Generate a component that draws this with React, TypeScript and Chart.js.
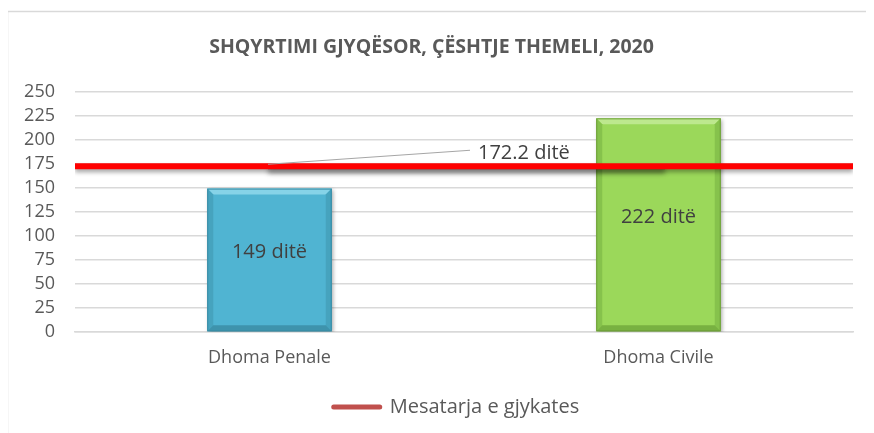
import React, { useEffect, useRef } from "react";
import { Chart, registerables } from "chart.js";

Chart.register(...registerables);

const titleText = "SHQYRTIMI GJYQËSOR, ÇËSHTJE THEMELI, 2020";
const categories = ["Dhoma Penale", "Dhoma Civile"];
const barValues = [149, 222];
const barLabels = ["149 ditë", "222 ditë"];
const averageValue = 172.2;
const averageLabel = "172.2 ditë";
const legendText = "Mesatarja e gjykates";
const yTicks = [0, 25, 50, 75, 100, 125, 150, 175, 200, 225, 250];

const barFill = ["#50B4D2", "#9BD85A"];
const barBorder = ["#3A8CA4", "#6E9E3A"];
const bevelTop = ["#86D3E8", "#BDE88E"];
const bevelSide = ["#46A3BE", "#86C24C"];
const bevelBottom = ["#3E93AC", "#78B141"];

const FONT = "'Open Sans', 'Noto Sans', sans-serif";

const framePlugin = {
  id: "frame",
  beforeDraw(chart: any) {
    const { ctx, width, height } = chart;
    ctx.save();
    ctx.fillStyle = "#ffffff";
    ctx.fillRect(0, 0, width, height);
    ctx.strokeStyle = "#D9D9D9";
    ctx.lineWidth = 1.5;
    ctx.beginPath();
    ctx.moveTo(6, 11.5);
    ctx.lineTo(width, 11.5);
    ctx.moveTo(7.5, 11);
    ctx.lineTo(7.5, height);
    ctx.stroke();
    ctx.restore();
  },
  afterLayout(chart: any) {
    if (chart.legend) chart.legend.left += 50;
  },
};

const barDecor = {
  id: "barDecor",
  beforeDatasetDraw(chart: any, args: any) {
    const ctx = chart.ctx;
    if (args.index === 0) {
      ctx.save();
      ctx.shadowColor = "rgba(0,0,0,0.35)";
      ctx.shadowBlur = 4;
      ctx.shadowOffsetX = 1.5;
      ctx.shadowOffsetY = 1.5;
    }
    if (args.index === 1) {
      // shadow of the callout under the average line
      const y = chart.scales.y.getPixelForValue(averageValue);
      ctx.save();
      ctx.shadowColor = "rgba(0,0,0,0.6)";
      ctx.shadowBlur = 5;
      ctx.shadowOffsetY = 4;
      ctx.fillStyle = "rgba(70,70,70,0.7)";
      ctx.fillRect(268, y - 2, 397, 5);
      ctx.restore();
      ctx.save();
      ctx.shadowColor = "rgba(0,0,0,0.35)";
      ctx.shadowBlur = 4;
      ctx.shadowOffsetY = 3;
    }
  },
  afterDatasetDraw(chart: any, args: any) {
    const ctx = chart.ctx;
    if (args.index === 1) {
      ctx.restore();
      return;
    }
    if (args.index !== 0) return;
    ctx.restore();
    const meta = chart.getDatasetMeta(0);
    meta.data.forEach((bar: any, i: number) => {
      const x0 = bar.x - bar.width / 2;
      const x1 = bar.x + bar.width / 2;
      const y0 = bar.y;
      const yb = bar.base;
      const b = 6;
      ctx.save();
      ctx.fillStyle = bevelTop[i];
      ctx.beginPath();
      ctx.moveTo(x0, y0);
      ctx.lineTo(x1, y0);
      ctx.lineTo(x1 - b, y0 + b);
      ctx.lineTo(x0 + b, y0 + b);
      ctx.closePath();
      ctx.fill();
      ctx.fillStyle = bevelSide[i];
      ctx.beginPath();
      ctx.moveTo(x0, y0);
      ctx.lineTo(x0 + b, y0 + b);
      ctx.lineTo(x0 + b, yb - b);
      ctx.lineTo(x0, yb);
      ctx.closePath();
      ctx.fill();
      ctx.beginPath();
      ctx.moveTo(x1, y0);
      ctx.lineTo(x1 - b, y0 + b);
      ctx.lineTo(x1 - b, yb - b);
      ctx.lineTo(x1, yb);
      ctx.closePath();
      ctx.fill();
      ctx.fillStyle = bevelBottom[i];
      ctx.beginPath();
      ctx.moveTo(x0, yb);
      ctx.lineTo(x1, yb);
      ctx.lineTo(x1 - b, yb - b);
      ctx.lineTo(x0 + b, yb - b);
      ctx.closePath();
      ctx.fill();
      ctx.strokeStyle = barBorder[i];
      ctx.lineWidth = 1;
      ctx.strokeRect(x0 + 0.5, y0 + 0.5, bar.width - 1, yb - y0 - 1);
      ctx.fillStyle = "#404040";
      ctx.font = `20px ${FONT}`;
      ctx.textAlign = "center";
      ctx.textBaseline = "middle";
      ctx.fillText(barLabels[i], bar.x, (y0 + yb) / 2 - 8);
      ctx.restore();
    });
  },
  afterDatasetsDraw(chart: any) {
    const ctx = chart.ctx;
    const y = chart.scales.y.getPixelForValue(averageValue);
    ctx.save();
    ctx.strokeStyle = "#A6A6A6";
    ctx.lineWidth = 1;
    ctx.beginPath();
    ctx.moveTo(268, y - 2);
    ctx.lineTo(470, y - 16);
    ctx.stroke();
    ctx.fillStyle = "#404040";
    ctx.font = `20px ${FONT}`;
    ctx.textAlign = "left";
    ctx.textBaseline = "middle";
    ctx.fillText(averageLabel, 478, y - 13);
    ctx.restore();
  },
};

export default function App() {
  const ref = useRef<HTMLCanvasElement | null>(null);
  useEffect(() => {
    if (!ref.current) return;
    const chart = new Chart(ref.current, {
      type: "bar",
      data: {
        labels: categories,
        datasets: [
          {
            type: "bar",
            label: "Dhoma",
            data: barValues,
            backgroundColor: barFill,
            borderWidth: 0,
            barPercentage: 0.32,
            categoryPercentage: 1,
            grouped: false,
            order: 2,
          } as any,
          {
            type: "line",
            label: legendText,
            data: [
              { x: 0, y: averageValue },
              { x: 1, y: averageValue },
            ],
            xAxisID: "x2",
            borderColor: "#FF0000",
            borderWidth: 6,
            pointRadius: 0,
            fill: false,
            order: 1,
          } as any,
        ],
      },
      options: {
        animation: false,
        responsive: false,
        maintainAspectRatio: false,
        layout: { padding: { left: 10, right: 21, top: 36, bottom: 6 } },
        plugins: {
          tooltip: { enabled: false },
          title: {
            display: true,
            text: titleText,
            color: "#595959",
            font: { family: FONT, size: 19.5, weight: "bold" },
            padding: { top: 0, bottom: 32 },
          },
          legend: {
            display: true,
            position: "bottom",
            labels: {
              usePointStyle: true,
              pointStyleWidth: 46,
              color: "#595959",
              font: { family: FONT, size: 20 },
              padding: 10,
              generateLabels: () => [
                {
                  text: legendText,
                  fillStyle: "#C0504D",
                  strokeStyle: "#C0504D",
                  lineWidth: 5,
                  lineCap: "round",
                  pointStyle: "line",
                  datasetIndex: 1,
                  fontColor: "#595959",
                } as any,
              ],
            },
          },
        },
        scales: {
          x: {
            type: "category",
            grid: { display: false, drawTicks: false },
            border: { display: true, color: "#D9D9D9", width: 1.5 },
            ticks: {
              color: "#595959",
              font: { family: FONT, size: 18 },
              padding: 15,
            },
            afterFit: (s: any) => {
              s.height = 55;
            },
          },
          x2: {
            type: "linear",
            display: false,
            offset: false,
            min: 0,
            max: 1,
          },
          y: {
            min: 0,
            max: 250,
            afterBuildTicks: (s: any) => {
              s.ticks = yTicks.map((v) => ({ value: v }));
            },
            grid: { color: "#D9D9D9", lineWidth: 1.5, drawTicks: false },
            border: { display: false },
            ticks: {
              color: "#595959",
              font: { family: FONT, size: 18 },
              padding: 20,
              autoSkip: false,
            },
            afterFit: (s: any) => {
              s.width = 65;
            },
          },
        },
      },
      plugins: [framePlugin, barDecor],
    });
    return () => chart.destroy();
  }, []);
  return (
    <div style={{ margin: "-8px 0 0 -8px", width: 874, height: 433 }}>
      <canvas ref={ref} width={874} height={433} style={{ display: "block" }} />
    </div>
  );
}
